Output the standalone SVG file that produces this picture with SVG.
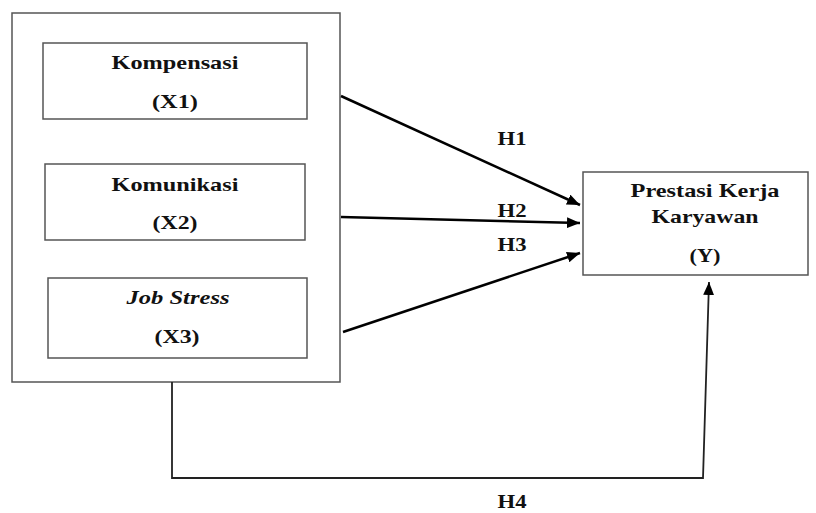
<svg xmlns="http://www.w3.org/2000/svg" width="816" height="513" viewBox="0 0 816 513">
<style>
.box{fill:#fff;stroke:#555;stroke-width:1.5}
.t{font-family:"Liberation Serif","Times New Roman",serif;font-weight:bold;font-size:19px;fill:#111;text-anchor:middle}
.it{font-style:italic}
.arr{fill:none;stroke:#000;stroke-width:2.5}
.thin{fill:none;stroke:#222;stroke-width:1.8}
</style>
<defs>
<marker id="ah" viewBox="0 0 12 10" refX="12" refY="5" markerWidth="13" markerHeight="11" markerUnits="userSpaceOnUse" orient="auto">
<path d="M0,0 L12,5 L0,10 Z" fill="#000"/>
</marker>
</defs>
<rect width="816" height="513" fill="#fff"/>
<g id="outer"><rect class="box" x="12" y="13" width="328" height="369"/></g>
<g id="x1">
<rect class="box" x="43" y="43" width="264" height="76"/>
<text class="t" x="175" y="69" textLength="127" lengthAdjust="spacingAndGlyphs">Kompensasi</text>
<text class="t" x="175" y="108" textLength="46" lengthAdjust="spacingAndGlyphs">(X1)</text>
</g>
<g id="x2">
<rect class="box" x="45" y="164" width="260" height="76"/>
<text class="t" x="175" y="191" textLength="127" lengthAdjust="spacingAndGlyphs">Komunikasi</text>
<text class="t" x="175" y="229" textLength="45" lengthAdjust="spacingAndGlyphs">(X2)</text>
</g>
<g id="x3">
<rect class="box" x="48" y="278" width="259" height="80"/>
<text class="t it" x="178" y="304" textLength="103" lengthAdjust="spacingAndGlyphs">Job Stress</text>
<text class="t" x="177" y="343" textLength="45" lengthAdjust="spacingAndGlyphs">(X3)</text>
</g>
<g id="y">
<rect class="box" x="583" y="172" width="225" height="103"/>
<text class="t" x="705" y="197" textLength="149" lengthAdjust="spacingAndGlyphs">Prestasi Kerja</text>
<text class="t" x="705" y="223" textLength="107" lengthAdjust="spacingAndGlyphs">Karyawan</text>
<text class="t" x="705" y="262" textLength="31" lengthAdjust="spacingAndGlyphs">(Y)</text>
</g>
<g id="connectors">
<line class="arr" x1="341" y1="96" x2="580" y2="205" marker-end="url(#ah)"/>
<line class="arr" x1="341" y1="217" x2="580" y2="223" marker-end="url(#ah)"/>
<line class="arr" x1="343" y1="332" x2="580" y2="253" marker-end="url(#ah)"/>
<path class="thin" d="M172,382 V478 H703 L709,282" marker-end="url(#ah)"/>
<text class="t" x="512" y="145" textLength="29" lengthAdjust="spacingAndGlyphs">H1</text>
<text class="t" x="512" y="217" textLength="29" lengthAdjust="spacingAndGlyphs">H2</text>
<text class="t" x="512" y="251" textLength="29" lengthAdjust="spacingAndGlyphs">H3</text>
<text class="t" x="512" y="508" textLength="29" lengthAdjust="spacingAndGlyphs">H4</text>
</g>
</svg>
